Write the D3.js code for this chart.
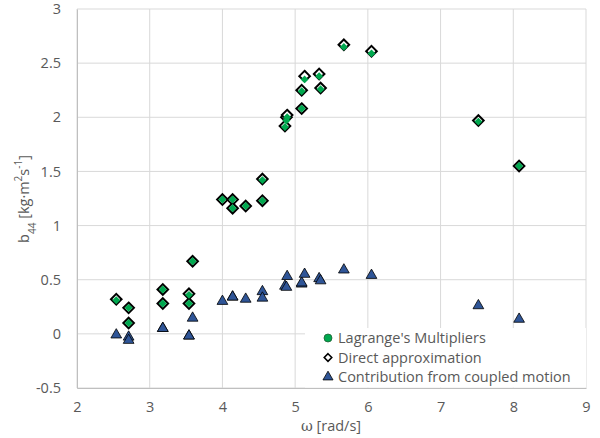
<!DOCTYPE html>
<html>
<head>
<meta charset="utf-8">
<script src="https://cdn.jsdelivr.net/npm/d3@7"></script>
<style>
  body { margin: 0; background: #fff; }
  svg { display: block; font-family: "Open Sans", Lato, sans-serif; }
</style>
</head>
<body>
<svg width="600" height="438"></svg>
<script>
  // omega [rad/s] for every measured point
  var omega = [2.54, 2.71, 2.71, 3.18, 3.18, 3.54, 3.54, 3.59, 4.00, 4.14, 4.14, 4.32, 4.55, 4.55,
    4.86, 4.88, 4.89, 5.09, 5.09, 5.13, 5.33, 5.35, 5.67, 6.05, 7.52, 8.08];
  var lagrange = [0.31, 0.24, 0.10, 0.41, 0.28, 0.36, 0.28, 0.67, 1.24, 1.24, 1.16, 1.18, 1.42, 1.23,
    1.91, 1.97, 2.00, 2.08, 2.24, 2.35, 2.38, 2.26, 2.65, 2.59, 1.96, 1.55];
  var direct = [0.32, 0.24, 0.10, 0.41, 0.28, 0.37, 0.28, 0.67, 1.24, 1.24, 1.16, 1.18, 1.43, 1.23,
    1.92, 2.00, 2.02, 2.08, 2.25, 2.38, 2.40, 2.27, 2.67, 2.61, 1.97, 1.55];
  var coupled = [0.00, -0.02, -0.05, 0.06, 0.06, -0.01, -0.01, 0.155, 0.31, 0.35, 0.35, 0.33, 0.40, 0.34,
    0.45, 0.44, 0.54, 0.47, 0.48, 0.56, 0.52, 0.50, 0.60, 0.55, 0.27, 0.145];
  var xTicks = [2, 3, 4, 5, 6, 7, 8, 9];
  var yTicks = [-0.5, 0, 0.5, 1, 1.5, 2, 2.5, 3];
  var legendNames = ["Lagrange's Multipliers", "Direct approximation", "Contribution from coupled motion"];

  var svg = d3.select('svg');
  var mLeft = 77, mRight = 586, mTop = 9, mBottom = 388;

  var x = d3.scaleLinear().domain([2, 9]).range([mLeft, mRight]);
  var y = d3.scaleLinear().domain([-0.5, 3]).range([mBottom, mTop]);

  var green = '#00a84f', blue = '#2f5597', tickCol = '#595959';

  // gridlines
  svg.append('g').selectAll('line').data(yTicks).join('line')
    .attr('x1', mLeft).attr('x2', mRight)
    .attr('y1', function(d) { return y(d); }).attr('y2', function(d) { return y(d); })
    .attr('stroke', '#d9d9d9').attr('stroke-width', 1);
  svg.append('g').selectAll('line').data(xTicks).join('line')
    .attr('y1', mTop).attr('y2', mBottom)
    .attr('x1', function(d) { return x(d); }).attr('x2', function(d) { return x(d); })
    .attr('stroke', '#d9d9d9').attr('stroke-width', 1);

  // axes
  var xAxis = svg.append('g').attr('transform', 'translate(0,' + mBottom + ')')
    .call(d3.axisBottom(x).tickValues(xTicks).tickSize(0).tickPadding(14).tickFormat(d3.format('d')));
  var yAxis = svg.append('g').attr('transform', 'translate(' + mLeft + ',0)')
    .call(d3.axisLeft(y).tickValues(yTicks).tickSize(0).tickPadding(16).tickFormat(function(d) { return String(d); }));
  [xAxis, yAxis].forEach(function(a) {
    a.select('.domain').attr('stroke', '#bfbfbf');
    a.selectAll('text').attr('fill', tickCol).style('font-size', '14.5px')
      .style('font-family', '"Open Sans", Lato, sans-serif');
  });

  var diamond = d3.symbol().type(d3.symbolDiamond2).size(72);
  var tri = d3.symbol().type(d3.symbolTriangle).size(50);

  var pts = omega.map(function(w, i) { return { w: w, l: lagrange[i], d: direct[i], c: coupled[i] }; });

  // direct approximation (white diamonds) then Lagrange (green) on top
  svg.append('g').selectAll('path').data(pts).join('path')
    .attr('d', diamond)
    .attr('transform', function(p) { return 'translate(' + x(p.w) + ',' + y(p.d) + ')'; })
    .attr('fill', '#fff').attr('stroke', '#000').attr('stroke-width', 2);
  svg.append('g').selectAll('path').data(pts).join('path')
    .attr('d', d3.symbol().type(d3.symbolDiamond2).size(40))
    .attr('transform', function(p) { return 'translate(' + x(p.w) + ',' + y(p.l) + ')'; })
    .attr('fill', green).attr('stroke', 'none');

  svg.append('g').selectAll('path').data(pts).join('path')
    .attr('d', tri)
    .attr('transform', function(p) { return 'translate(' + x(p.w) + ',' + (y(p.c) + 1) + ')'; })
    .attr('fill', blue).attr('stroke', '#000').attr('stroke-width', 0.8);

  // legend
  var lg = svg.append('g');
  lg.append('rect').attr('x', 305).attr('y', 328).attr('width', 281).attr('height', 59.5).attr('fill', '#fff');
  var rows = lg.selectAll('g.row').data(legendNames).join('g').attr('class', 'row')
    .attr('transform', function(d, i) { return 'translate(328,' + (338 + i * 19.5) + ')'; });
  rows.append('path')
    .attr('d', function(d, i) {
      if (i === 0) return d3.symbol().type(d3.symbolCircle).size(50)();
      if (i === 1) return d3.symbol().type(d3.symbolDiamond2).size(36)();
      return d3.symbol().type(d3.symbolTriangle).size(44)();
    })
    .attr('fill', function(d, i) { return [green, '#fff', blue][i]; })
    .attr('stroke', function(d, i) { return i === 0 ? '#1f5f33' : '#000'; })
    .attr('stroke-width', function(d, i) { return i === 1 ? 1.6 : 0.8; });
  rows.append('text').attr('x', 10).attr('dy', '0.35em')
    .attr('fill', tickCol).style('font-size', '14.5px').text(function(d) { return d; });

  // axis titles
  svg.append('text').attr('x', 331).attr('y', 431).attr('text-anchor', 'middle')
    .attr('fill', tickCol).style('font-size', '14.5px')
    .html('<tspan style="font-family:\'DejaVu Serif\',serif">ω</tspan> [rad/s]');
  svg.append('text').attr('transform', 'translate(29,199) rotate(-90)').attr('text-anchor', 'middle')
    .attr('fill', tickCol).style('font-size', '14.5px')
    .html('b<tspan baseline-shift="sub" font-size="10px">44</tspan> [kg·m<tspan baseline-shift="super" font-size="10px">2</tspan>s<tspan baseline-shift="super" font-size="10px">-1</tspan>]');
</script>
</body>
</html>
